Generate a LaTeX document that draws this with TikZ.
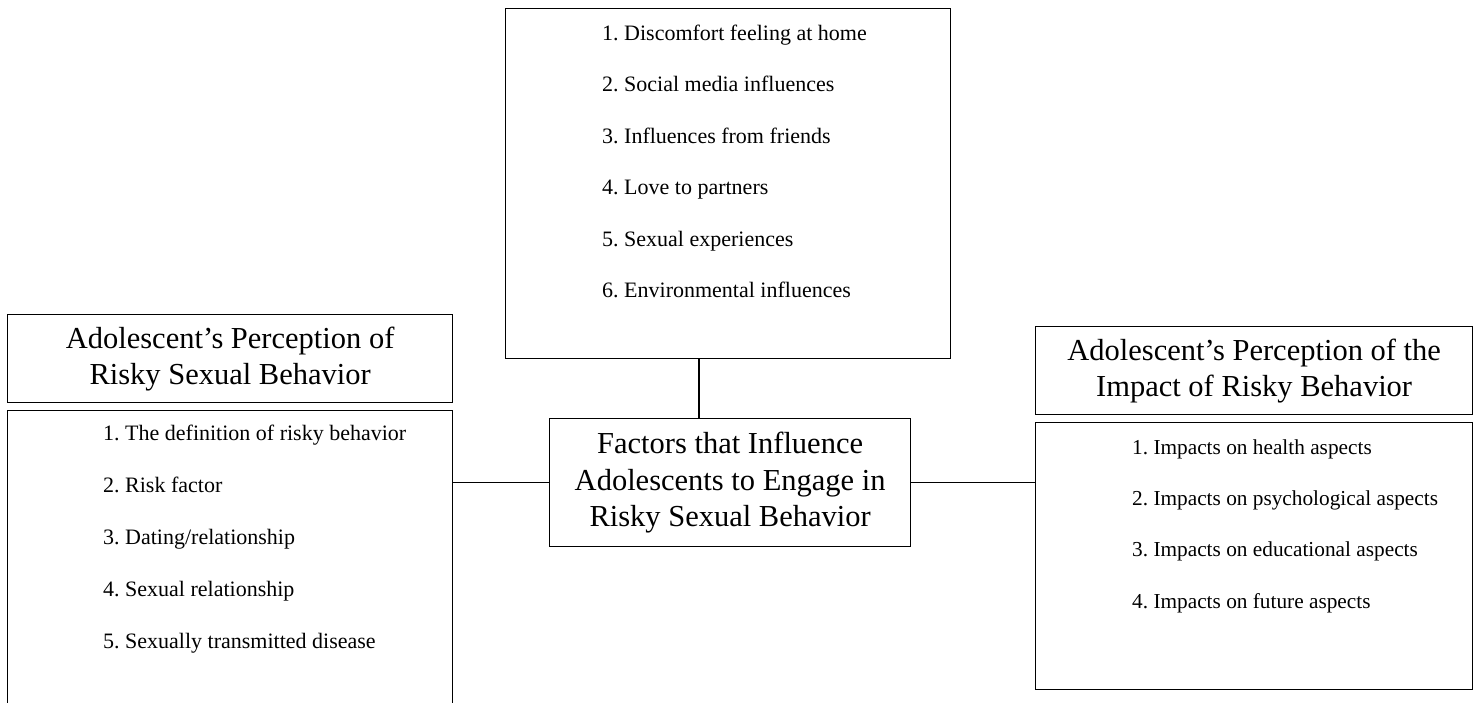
\documentclass[tikz,border=0pt]{standalone}
\usepackage{fontspec}
\setmainfont{Liberation Serif}
\frenchspacing
\begin{document}
\begin{tikzpicture}[x=1pt,y=-1pt,
  box/.style={draw=black,line width=1.3pt,inner sep=0pt,anchor=north west},
  titlefont/.style={font=\fontsize{30.5}{36.5}\selectfont,align=center},
  item/.style={font=\fontsize{22}{26}\selectfont,anchor=base west,inner sep=0pt},
  itemtnr/.style={font=\fontsize{21.3}{26}\selectfont,anchor=base west,inner sep=0pt},
  link/.style={draw=black,line width=1.3pt}]
\useasboundingbox (0,0) rectangle (1478,702);
\clip (0,0) rectangle (1478,702);
% boxes
\node[box,minimum width=445pt,minimum height=350pt] (top) at (505,8) {};
\node[box,titlefont,minimum width=445pt,minimum height=88pt,text depth=6pt] (ltitle) at (7,314)
  {Adolescent’s Perception of\\Risky Sexual Behavior};
\node[box,minimum width=445pt,minimum height=310pt] (llist) at (7,410) {};
\node[box,titlefont,minimum width=361pt,minimum height=128pt] (center) at (549,418)
  {Factors that Influence\\Adolescents to Engage in\\Risky Sexual Behavior};
\node[box,titlefont,minimum width=437pt,minimum height=88pt,text depth=6pt] (rtitle) at (1035,326)
  {Adolescent’s Perception of the\\Impact of Risky Behavior};
\node[box,minimum width=437pt,minimum height=267pt] (rlist) at (1035,422) {};
% top list
\node[item] (t1) at (602,40) {1. Discomfort feeling at home};
\node[item] (t2) at (602,91.5) {2. Social media influences};
\node[item] (t3) at (602,143) {3. Influences from friends};
\node[item] (t4) at (602,194.5) {4. Love to partners};
\node[item] (t5) at (602,246) {5. Sexual experiences};
\node[item] (t6) at (602,297.5) {6. Environmental influences};
% left list
\node[item] (l1) at (103,440) {1. The definition of risky behavior};
\node[item] (l2) at (103,492) {2. Risk factor};
\node[item] (l3) at (103,544) {3. Dating/relationship};
\node[item] (l4) at (103,596) {4. Sexual relationship};
\node[item] (l5) at (103,648) {5. Sexually transmitted disease};
% right list
\node[itemtnr] (r1) at (1132,454) {1. Impacts on health aspects};
\node[itemtnr] (r2) at (1132,505) {2. Impacts on psychological aspects};
\node[itemtnr] (r3) at (1132,556) {3. Impacts on educational aspects};
\node[itemtnr] (r4) at (1132,608) {4. Impacts on future aspects};
% connectors
\coordinate (vx) at (699,0);
\draw[link] (top.south -| vx) -- (center.north -| vx);
\draw[link] (center.west) -- (center.west -| llist.east);
\draw[link] (center.east) -- (center.east -| rlist.west);
\end{tikzpicture}
\end{document}
